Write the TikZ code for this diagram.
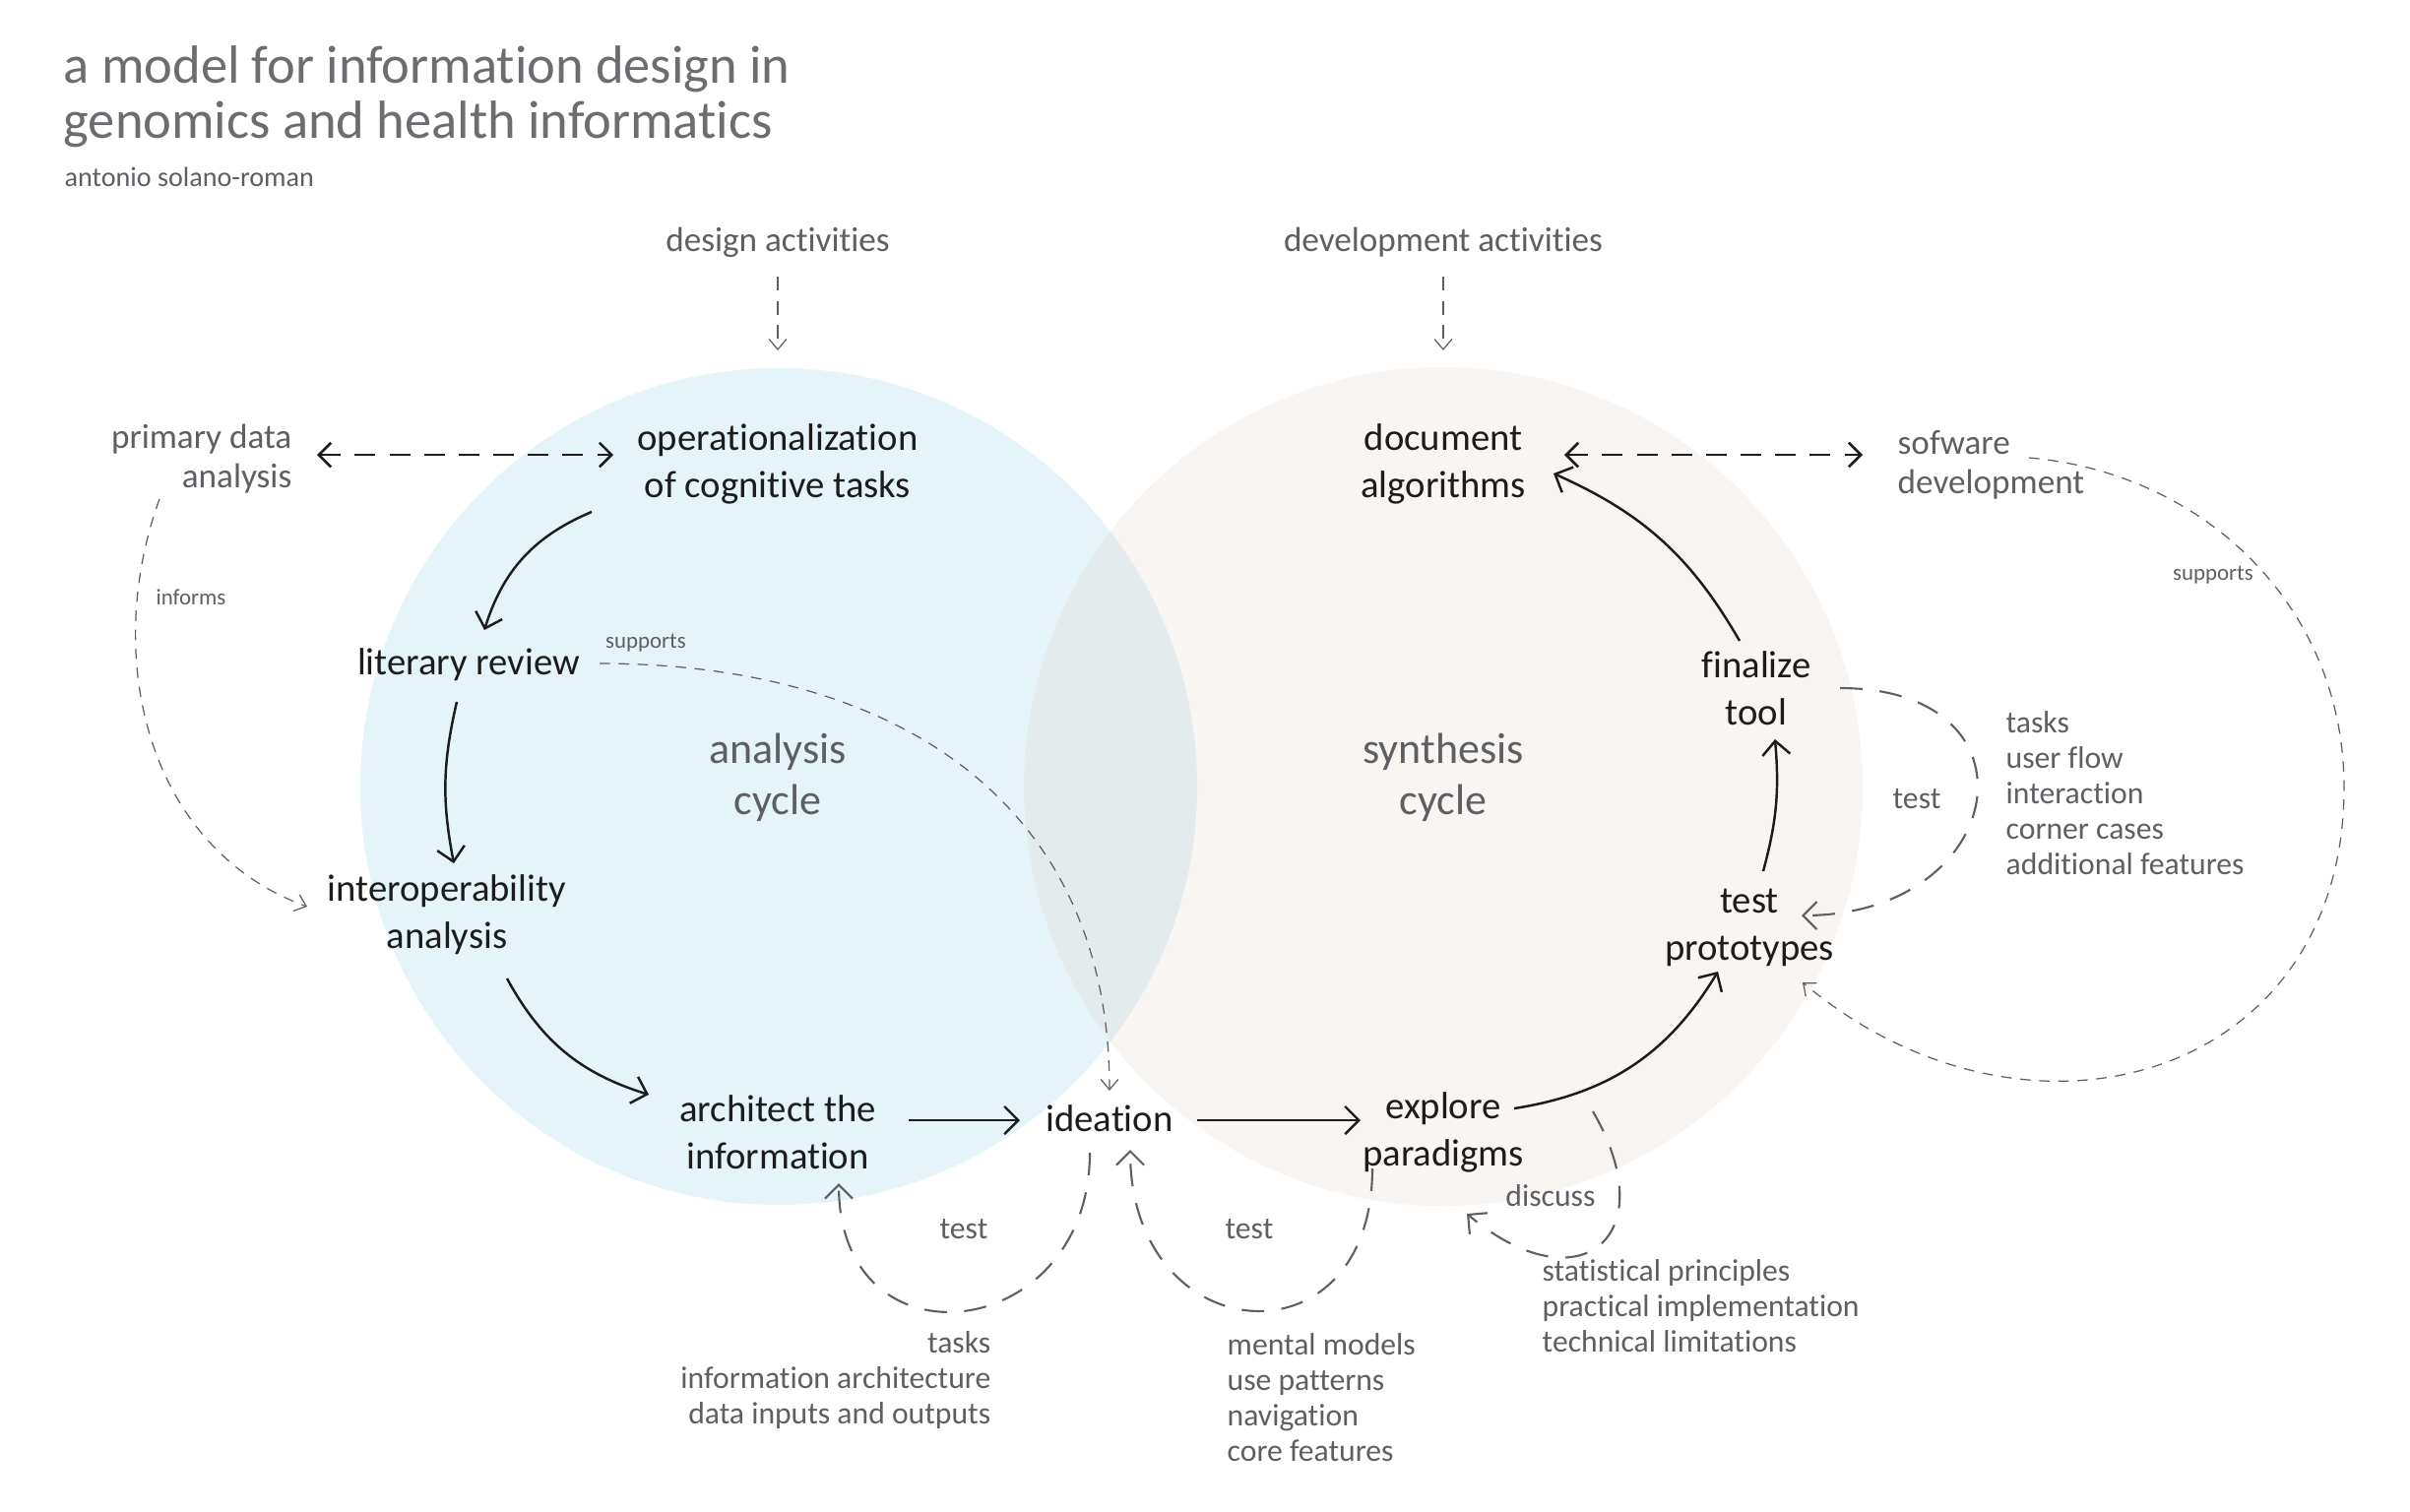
\documentclass[tikz,border=0pt]{standalone}
\usepackage{fontspec}
\setmainfont{Carlito}[Ligatures = NoCommon]
\usetikzlibrary{arrows.meta}

\definecolor{bluecyc}{HTML}{E5F4F8}
\definecolor{sandcyc}{HTML}{F8F5F2}
\definecolor{mixcyc}{HTML}{E4EBEC}
\definecolor{ink}{HTML}{1C1C1C}
\definecolor{note}{HTML}{5E5F63}
\definecolor{headgray}{HTML}{6C6D71}

\tikzset{
	mainlbl/.style = {inner sep = 0pt, align = center, text = ink, font = \fontsize{11}{13.7}\selectfont},
	sidelbl/.style = {inner sep = 0pt, text = note, font = \fontsize{10}{11.4}\selectfont},
	listlbl/.style = {inner sep = 0pt, text = note, font = \fontsize{9}{10.25}\selectfont},
	tinylbl/.style = {inner sep = 0pt, text = note, font = \fontsize{6.5}{8}\selectfont},
	cyclbl/.style = {inner sep = 0pt, align = center, text = note, font = \fontsize{12.5}{14.7}\selectfont},
	flow/.style = {-{Straight Barb[length = 4pt, width = 8pt]}, line width = 0.7pt, ink},
	duplex/.style = {{Straight Barb[length = 3.5pt, width = 7pt]}-{Straight Barb[length = 3.5pt, width = 7pt]}, line width = 0.75pt, ink, dash pattern = on 6pt off 4pt},
	loopdash/.style = {-{Straight Barb[length = 4pt, width = 8pt]}, line width = 0.6pt, note, dash pattern = on 6.5pt off 5pt},
	thindash/.style = {-{Straight Barb[length = 3pt, width = 5pt]}, line width = 0.35pt, note, dash pattern = on 3pt off 2.5pt}
}

\begin{document}
\begin{tikzpicture}[x = 0.01cm, y = -0.01cm]
	\useasboundingbox (0,0) rectangle (2448,1535);
	\fill [white] (0,0) rectangle (2448,1535);
	
	% the two cycles
	\coordinate (ca) at (791,799);
	\coordinate (cs) at (1466,799);
	\fill [bluecyc] (ca) circle [radius = 425];
	\fill [sandcyc] (cs) circle [radius = 426];
	\begin{scope}
		\clip (ca) circle [radius = 425];
		\fill [mixcyc] (cs) circle [radius = 426];
	\end{scope}
	
	\node [cyclbl] (acyc) at (790,790) {analysis\\cycle};
	\node [cyclbl] (scyc) at (1466,790) {synthesis\\cycle};
	
	% heading
	\node [inner sep = 0pt, align = left, anchor = west, text = headgray, font = \fontsize{15.5}{15.8}\selectfont] (ttl) at (64,98) {a model for information design in\\genomics and health informatics};
	\node [sidelbl, anchor = west, font = \fontsize{8}{9}\selectfont] (auth) at (65,180) {antonio solano-roman};
	
	\node [sidelbl] (des) at (790,246) {design activities};
	\node [sidelbl] (dev) at (1466,246) {development activities};
	\coordinate (atop) at (790,356);
	\coordinate (stop) at (1466,356);
	
	\node [sidelbl, align = right, anchor = east] (pda) at (297,466) {primary data\\analysis};
	\node [sidelbl, align = left, anchor = west] (swd) at (1927,472) {sofware\\development};
	
	% steps
	\node [mainlbl] (opc) at (790,471) {operationalization\\of cognitive tasks};
	\node [mainlbl] (lit) at (476,675) {literary review};
	\node [mainlbl] (inter) at (454,929) {interoperability\\analysis};
	\node [mainlbl] (arch) at (790,1150) {architect the\\information};
	\node [mainlbl] (idea) at (1127,1136) {ideation};
	\node [mainlbl] (expl) at (1466,1150) {explore\\paradigms};
	\node [mainlbl] (tp) at (1777,942) {test\\prototypes};
	\node [mainlbl] (fin) at (1784,699) {finalize\\tool};
	\node [mainlbl] (doc) at (1466,471) {document\\algorithms};
	
	% notes
	\node [tinylbl] (inf) at (194,607) {informs};
	\node [tinylbl] (supl) at (656,653) {supports};
	\node [tinylbl] (supr) at (2248,584) {supports};
	\node [listlbl] (tfin) at (1947,812) {test};
	\node [listlbl] (tarch) at (979,1249) {test};
	\node [listlbl] (tidea) at (1269,1249) {test};
	\node [listlbl] (disc) at (1575,1215) {discuss};
	
	\node [listlbl, align = left, anchor = west] (ufl) at (2037,806) {tasks\\user flow\\interaction\\corner cases\\additional features};
	\node [listlbl, align = right, anchor = east] (ial) at (1007,1402) {tasks\\information architecture\\data inputs and outputs};
	\node [listlbl, align = left, anchor = west] (mml) at (1246,1420) {mental models\\use patterns\\navigation\\core features};
	\node [listlbl, align = left, anchor = west] (spl) at (1566,1327) {statistical principles\\practical implementation\\technical limitations};
	
	% cycle arrows
	\draw [flow] ([shift = {(-189,49)}]opc.center) to [bend right = 25] ([shift = {(16,-35)}]lit.center);
	\draw [flow] ([shift = {(-12,38)}]lit.center) to [bend right = 12] ([shift = {(7,-52)}]inter.center);
	\draw [flow] ([shift = {(61,65)}]inter.center) to [bend right = 22] ([shift = {(-131,-38)}]arch.center);
	\draw [flow] ([shift = {(133,-12)}]arch.center) -- ([shift = {(-91,2)}]idea.center);
	\draw [flow] ([shift = {(89,2)}]idea.center) -- ([shift = {(-84,-12)}]expl.center);
	\draw [flow] ([shift = {(72,-24)}]expl.center) to [bend right = 25] ([shift = {(-32,45)}]tp.center);
	\draw [flow] ([shift = {(14,-57)}]tp.center) to [bend right = 10] ([shift = {(19,52)}]fin.center);
	\draw [flow] ([shift = {(-17,-48)}]fin.center) to [bend right = 18] ([shift = {(112,10)}]doc.center);
	
	\draw [duplex] ([shift = {(25,-4)}]pda.east) -- ([shift = {(-167,-9)}]opc.center);
	\draw [duplex] ([shift = {(123,-9)}]doc.center) -- ([shift = {(-35,-10)}]swd.west);
	
	% feedback loops
	\draw [loopdash] ([shift = {(-20,35)}]idea.center) to [out = -90, in = -90, looseness = 1.93] ([shift = {(62,52)}]arch.center);
	\draw [loopdash] ([shift = {(-72,37)}]expl.center) to [out = -90, in = -90, looseness = 2.13] ([shift = {(21,32)}]idea.center);
	\draw [loopdash] ([shift = {(152,-21)}]expl.center) to [out = -60, in = -40, looseness = 2.3] ([shift = {(24,83)}]expl.center);
	\draw [loopdash] ([shift = {(85,0)}]fin.center) to [out = 0, in = 0, looseness = 2.3] ([shift = {(53,-12)}]tp.center);
	
	\draw [thindash, dash pattern = on 4pt off 3pt] ([shift = {(0,35)}]des.center) -- (atop);
	\draw [thindash, dash pattern = on 4pt off 3pt] ([shift = {(0,35)}]dev.center) -- (stop);
	\draw [thindash] ([shift = {(-135,41)}]pda.east) to [out = -110, in = 160] ([shift = {(-142,-8)}]inter.center);
	\draw [thindash] ([shift = {(133,-1)}]lit.center) to [out = 0, in = 90, looseness = 1.12] ([shift = {(0,-28)}]idea.center);
	\coordinate (supR) at (2381,800);
	\draw [thindash] ([shift = {(134,-7)}]swd.west) to [out = -5, in = 90] (supR) to [out = -90, in = -40, looseness = 1.3] ([shift = {(54,56)}]tp.center);
\end{tikzpicture}
\end{document}
